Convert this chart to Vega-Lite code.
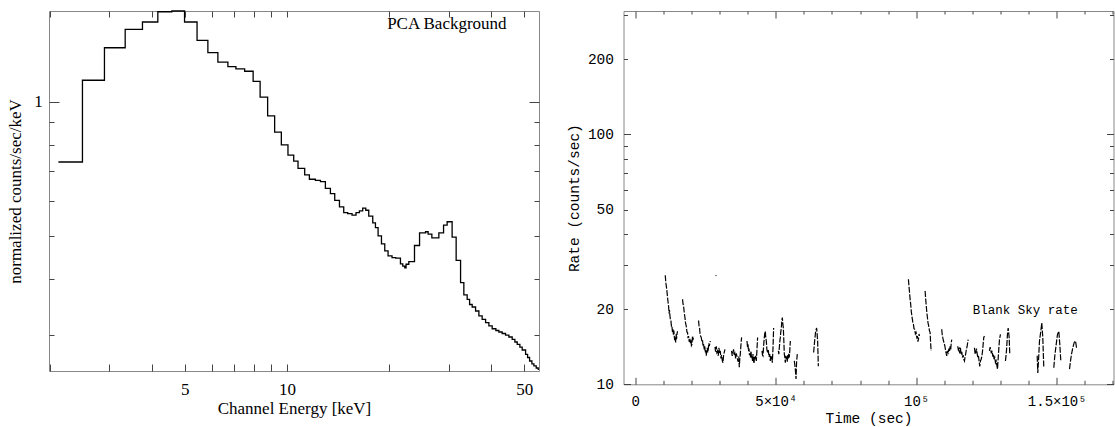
{
  "$schema": "https://vega.github.io/schema/vega-lite/v6.json",
  "padding": {"left": 6, "top": 7, "right": 1, "bottom": 0},
  "spacing": 22.5,
  "config": {
    "view": {"stroke": "#888", "strokeWidth": 1},
    "axis": {"domain": false, "grid": false, "tickColor": "#444", "tickWidth": 1, "labelColor": "#000", "titleColor": "#000", "titleFontWeight": "normal"}
  },
  "datasets": {
    "spectrum": [
      {"E": 2.121, "v": 0.7325}, {"E": 2.497, "v": 1.117}, {"E": 2.899, "v": 1.321}, {"E": 3.337, "v": 1.453},
      {"E": 3.752, "v": 1.509}, {"E": 4.164, "v": 1.591}, {"E": 4.579, "v": 1.597}, {"E": 4.992, "v": 1.509},
      {"E": 5.434, "v": 1.373}, {"E": 5.848, "v": 1.288}, {"E": 6.259, "v": 1.226}, {"E": 6.699, "v": 1.199},
      {"E": 7.073, "v": 1.184}, {"E": 7.505, "v": 1.170}, {"E": 7.950, "v": 1.111}, {"E": 8.336, "v": 1.024},
      {"E": 8.772, "v": 0.929}, {"E": 9.199, "v": 0.855}, {"E": 9.627, "v": 0.800}, {"E": 10.07, "v": 0.759},
      {"E": 10.47, "v": 0.736}, {"E": 10.78, "v": 0.709}, {"E": 11.28, "v": 0.685}, {"E": 11.645, "v": 0.670},
      {"E": 12.13, "v": 0.666}, {"E": 12.55, "v": 0.662}, {"E": 12.98, "v": 0.639}, {"E": 13.43, "v": 0.622},
      {"E": 13.83, "v": 0.601}, {"E": 14.28, "v": 0.581}, {"E": 14.70, "v": 0.564}, {"E": 15.10, "v": 0.561},
      {"E": 15.55, "v": 0.557}, {"E": 15.98, "v": 0.564}, {"E": 16.35, "v": 0.569}, {"E": 16.72, "v": 0.577},
      {"E": 17.07, "v": 0.571}, {"E": 17.42, "v": 0.554}, {"E": 17.90, "v": 0.535}, {"E": 18.23, "v": 0.522},
      {"E": 18.56, "v": 0.500}, {"E": 18.99, "v": 0.480}, {"E": 19.42, "v": 0.463}, {"E": 19.86, "v": 0.451},
      {"E": 20.40, "v": 0.447}, {"E": 20.92, "v": 0.446}, {"E": 21.60, "v": 0.433}, {"E": 21.94, "v": 0.428},
      {"E": 22.24, "v": 0.424}, {"E": 22.44, "v": 0.432}, {"E": 22.86, "v": 0.438}, {"E": 23.76, "v": 0.476},
      {"E": 24.59, "v": 0.508}, {"E": 25.61, "v": 0.511}, {"E": 26.06, "v": 0.505}, {"E": 26.73, "v": 0.495},
      {"E": 28.03, "v": 0.508}, {"E": 28.94, "v": 0.529}, {"E": 29.65, "v": 0.538}, {"E": 30.67, "v": 0.497},
      {"E": 31.52, "v": 0.441}, {"E": 32.48, "v": 0.393}, {"E": 33.21, "v": 0.369}, {"E": 33.97, "v": 0.3605},
      {"E": 34.53, "v": 0.351}, {"E": 35.14, "v": 0.3465}, {"E": 35.96, "v": 0.3394}, {"E": 36.78, "v": 0.3308},
      {"E": 37.60, "v": 0.3252}, {"E": 38.49, "v": 0.3195}, {"E": 39.36, "v": 0.3142}, {"E": 40.25, "v": 0.3097},
      {"E": 41.27, "v": 0.3069}, {"E": 42.12, "v": 0.3045}, {"E": 43.07, "v": 0.3022}, {"E": 44.07, "v": 0.2998},
      {"E": 45.08, "v": 0.2968}, {"E": 46.10, "v": 0.2933}, {"E": 46.95, "v": 0.2892}, {"E": 47.70, "v": 0.2858},
      {"E": 48.57, "v": 0.2818}, {"E": 49.34, "v": 0.2775}, {"E": 50.49, "v": 0.2714}, {"E": 51.18, "v": 0.2670},
      {"E": 51.88, "v": 0.2622}, {"E": 52.70, "v": 0.2582}, {"E": 53.42, "v": 0.2556}, {"E": 54.26, "v": 0.2529},
      {"E": 55.00, "v": 0.2512}, {"E": 55.27, "v": 0.2512}
    ],
    "specnote": [{"E": 29.6, "v": 1.456, "label": "PCA Background"}],
    "lcnote": [{"t": 138770, "r": 19.05, "label": "Blank Sky rate"}],
    "lc": [
      {"s": 1, "t": 10683, "r": 27.3}, {"s": 1, "t": 10900, "r": 25.5}, {"s": 1, "t": 11146, "r": 24.3}, {"s": 1, "t": 11300, "r": 23.5},
      {"s": 1, "t": 11502, "r": 22.2}, {"s": 1, "t": 11700, "r": 21.3}, {"s": 1, "t": 11858, "r": 20.6}, {"s": 1, "t": 12050, "r": 19.2},
      {"s": 1, "t": 12200, "r": 19.8}, {"s": 1, "t": 12357, "r": 18.8}, {"s": 1, "t": 12550, "r": 18.0}, {"s": 1, "t": 12713, "r": 17.9},
      {"s": 1, "t": 12900, "r": 17.0}, {"s": 1, "t": 13069, "r": 17.1}, {"s": 1, "t": 13250, "r": 16.2}, {"s": 1, "t": 13425, "r": 16.6},
      {"s": 1, "t": 13600, "r": 15.8}, {"s": 1, "t": 13750, "r": 16.4}, {"s": 1, "t": 13888, "r": 15.6}, {"s": 1, "t": 14050, "r": 15.0},
      {"s": 1, "t": 14244, "r": 15.4}, {"s": 1, "t": 14400, "r": 14.7}, {"s": 1, "t": 14493, "r": 14.9}, {"s": 1, "t": 14600, "r": 15.9},
      {"s": 1, "t": 14707, "r": 15.2}, {"s": 1, "t": 14900, "r": 16.0}, {"s": 1, "t": 15063, "r": 16.3},
      {"s": 2, "t": 16843, "r": 21.9}, {"s": 2, "t": 17000, "r": 21.0}, {"s": 2, "t": 17200, "r": 20.6}, {"s": 2, "t": 17450, "r": 19.3},
      {"s": 2, "t": 17698, "r": 18.5}, {"s": 2, "t": 17900, "r": 17.6}, {"s": 2, "t": 18161, "r": 17.1}, {"s": 2, "t": 18400, "r": 16.2},
      {"s": 2, "t": 18624, "r": 16.1}, {"s": 2, "t": 18800, "r": 15.3}, {"s": 2, "t": 18980, "r": 15.6}, {"s": 2, "t": 19200, "r": 14.8},
      {"s": 2, "t": 19479, "r": 15.2}, {"s": 2, "t": 19650, "r": 14.6}, {"s": 2, "t": 19835, "r": 15.1}, {"s": 2, "t": 20000, "r": 14.3},
      {"s": 2, "t": 20191, "r": 14.45}, {"s": 2, "t": 20400, "r": 15.6}, {"s": 2, "t": 20547, "r": 15.0}, {"s": 2, "t": 20761, "r": 15.6},
      {"s": 3, "t": 22541, "r": 18.0}, {"s": 3, "t": 22700, "r": 17.2}, {"s": 3, "t": 22897, "r": 16.8}, {"s": 3, "t": 23050, "r": 16.0},
      {"s": 3, "t": 23253, "r": 15.6}, {"s": 3, "t": 23500, "r": 15.4}, {"s": 3, "t": 23752, "r": 14.8}, {"s": 3, "t": 23950, "r": 15.0},
      {"s": 3, "t": 24108, "r": 14.3}, {"s": 3, "t": 24300, "r": 14.5}, {"s": 3, "t": 24571, "r": 13.8}, {"s": 3, "t": 24750, "r": 14.2},
      {"s": 3, "t": 24927, "r": 13.4}, {"s": 3, "t": 25100, "r": 13.7}, {"s": 3, "t": 25283, "r": 13.0}, {"s": 3, "t": 25450, "r": 13.6},
      {"s": 3, "t": 25639, "r": 14.0}, {"s": 3, "t": 25800, "r": 13.4}, {"s": 3, "t": 25995, "r": 13.8}, {"s": 3, "t": 26200, "r": 14.6},
      {"s": 3, "t": 26351, "r": 14.2}, {"s": 3, "t": 26708, "r": 14.9},
      {"s": 4, "t": 28650, "r": 27.3}, {"s": 4, "t": 28800, "r": 27.1},
      {"s": 5, "t": 28381, "r": 14.1}, {"s": 5, "t": 28600, "r": 13.5}, {"s": 5, "t": 28844, "r": 14.2}, {"s": 5, "t": 29050, "r": 13.4},
      {"s": 5, "t": 29307, "r": 13.6}, {"s": 5, "t": 29550, "r": 13.0}, {"s": 5, "t": 29806, "r": 14.0}, {"s": 5, "t": 30000, "r": 13.3},
      {"s": 5, "t": 30269, "r": 13.6}, {"s": 5, "t": 30500, "r": 12.7}, {"s": 5, "t": 30731, "r": 13.1}, {"s": 5, "t": 31000, "r": 12.4},
      {"s": 5, "t": 31230, "r": 12.2}, {"s": 5, "t": 31400, "r": 12.9}, {"s": 5, "t": 31586, "r": 13.3}, {"s": 5, "t": 31942, "r": 13.8},
      {"s": 6, "t": 34292, "r": 13.6}, {"s": 6, "t": 34500, "r": 13.0}, {"s": 6, "t": 34791, "r": 13.4}, {"s": 6, "t": 35000, "r": 13.8},
      {"s": 6, "t": 35254, "r": 13.1}, {"s": 6, "t": 35500, "r": 13.5}, {"s": 6, "t": 35716, "r": 12.7}, {"s": 6, "t": 35950, "r": 13.3},
      {"s": 6, "t": 36215, "r": 12.9}, {"s": 6, "t": 36450, "r": 12.5}, {"s": 6, "t": 36678, "r": 12.3}, {"s": 6, "t": 36850, "r": 12.9},
      {"s": 6, "t": 37034, "r": 11.7}, {"s": 6, "t": 37200, "r": 12.6}, {"s": 6, "t": 37390, "r": 13.2}, {"s": 6, "t": 37640, "r": 14.45},
      {"s": 6, "t": 37853, "r": 15.4},
      {"s": 7, "t": 39776, "r": 14.9}, {"s": 7, "t": 39950, "r": 14.1}, {"s": 7, "t": 40132, "r": 14.45}, {"s": 7, "t": 40300, "r": 13.6},
      {"s": 7, "t": 40488, "r": 13.9}, {"s": 7, "t": 40650, "r": 13.1}, {"s": 7, "t": 40844, "r": 13.3}, {"s": 7, "t": 41000, "r": 12.8},
      {"s": 7, "t": 41200, "r": 13.6}, {"s": 7, "t": 41400, "r": 12.7}, {"s": 7, "t": 41556, "r": 12.9}, {"s": 7, "t": 41750, "r": 12.4},
      {"s": 7, "t": 41912, "r": 13.2}, {"s": 7, "t": 42100, "r": 12.5}, {"s": 7, "t": 42269, "r": 12.1}, {"s": 7, "t": 42450, "r": 12.9},
      {"s": 7, "t": 42625, "r": 12.6}, {"s": 7, "t": 42850, "r": 13.0}, {"s": 7, "t": 43088, "r": 12.4}, {"s": 7, "t": 43300, "r": 13.6},
      {"s": 7, "t": 43551, "r": 15.4},
      {"s": 8, "t": 45118, "r": 13.6}, {"s": 8, "t": 45300, "r": 13.1}, {"s": 8, "t": 45474, "r": 13.0}, {"s": 8, "t": 45700, "r": 14.3},
      {"s": 8, "t": 45937, "r": 15.4}, {"s": 8, "t": 46100, "r": 16.0}, {"s": 8, "t": 46293, "r": 16.3}, {"s": 8, "t": 46450, "r": 15.4},
      {"s": 8, "t": 46649, "r": 14.9}, {"s": 8, "t": 46850, "r": 13.8}, {"s": 8, "t": 47112, "r": 13.4}, {"s": 8, "t": 47350, "r": 13.7},
      {"s": 8, "t": 47610, "r": 12.9}, {"s": 8, "t": 47850, "r": 13.2}, {"s": 8, "t": 48074, "r": 12.4}, {"s": 8, "t": 48250, "r": 13.0},
      {"s": 8, "t": 48430, "r": 12.6}, {"s": 8, "t": 48600, "r": 12.9}, {"s": 8, "t": 48786, "r": 12.2}, {"s": 8, "t": 49035, "r": 14.0},
      {"s": 8, "t": 49249, "r": 16.8},
      {"s": 9, "t": 50922, "r": 13.6}, {"s": 9, "t": 51100, "r": 13.2}, {"s": 9, "t": 51278, "r": 14.0}, {"s": 9, "t": 51450, "r": 14.8},
      {"s": 9, "t": 51635, "r": 15.4}, {"s": 9, "t": 51800, "r": 16.2}, {"s": 9, "t": 51991, "r": 16.8}, {"s": 9, "t": 52150, "r": 17.8},
      {"s": 9, "t": 52347, "r": 18.5}, {"s": 9, "t": 52500, "r": 17.6}, {"s": 9, "t": 52703, "r": 16.8}, {"s": 9, "t": 52900, "r": 14.8},
      {"s": 9, "t": 53059, "r": 13.2}, {"s": 9, "t": 53250, "r": 12.8}, {"s": 9, "t": 53415, "r": 12.2}, {"s": 9, "t": 53600, "r": 13.0},
      {"s": 9, "t": 53771, "r": 12.6}, {"s": 9, "t": 53950, "r": 12.9}, {"s": 9, "t": 54127, "r": 12.3}, {"s": 9, "t": 54300, "r": 13.1},
      {"s": 9, "t": 54483, "r": 12.7}, {"s": 9, "t": 54650, "r": 13.3}, {"s": 9, "t": 54839, "r": 12.8}, {"s": 9, "t": 55000, "r": 13.6},
      {"s": 9, "t": 55196, "r": 14.9},
      {"s": 10, "t": 56620, "r": 12.4}, {"s": 10, "t": 56976, "r": 11.5}, {"s": 10, "t": 57225, "r": 10.5}, {"s": 10, "t": 57439, "r": 12.4},
      {"s": 10, "t": 57688, "r": 13.2},
      {"s": 11, "t": 63492, "r": 13.4}, {"s": 11, "t": 63848, "r": 14.9}, {"s": 11, "t": 64204, "r": 16.3}, {"s": 11, "t": 64560, "r": 16.8},
      {"s": 11, "t": 64916, "r": 14.9}, {"s": 11, "t": 65166, "r": 11.8},
      {"s": 12, "t": 97215, "r": 26.3}, {"s": 12, "t": 97400, "r": 24.8}, {"s": 12, "t": 97571, "r": 23.6}, {"s": 12, "t": 97800, "r": 22.0},
      {"s": 12, "t": 98034, "r": 20.9}, {"s": 12, "t": 98250, "r": 19.5}, {"s": 12, "t": 98533, "r": 18.5}, {"s": 12, "t": 98750, "r": 17.8},
      {"s": 12, "t": 98996, "r": 17.4}, {"s": 12, "t": 99200, "r": 16.7}, {"s": 12, "t": 99459, "r": 16.6}, {"s": 12, "t": 99700, "r": 15.9},
      {"s": 12, "t": 99957, "r": 16.1}, {"s": 12, "t": 100200, "r": 15.4}, {"s": 12, "t": 100420, "r": 15.6}, {"s": 12, "t": 100600, "r": 14.8},
      {"s": 12, "t": 100776, "r": 15.1}, {"s": 12, "t": 101000, "r": 15.9}, {"s": 12, "t": 101132, "r": 15.6},
      {"s": 13, "t": 103162, "r": 23.6}, {"s": 13, "t": 103350, "r": 22.0}, {"s": 13, "t": 103518, "r": 20.9}, {"s": 13, "t": 103750, "r": 19.5},
      {"s": 13, "t": 103981, "r": 18.5}, {"s": 13, "t": 104200, "r": 17.6}, {"s": 13, "t": 104444, "r": 17.1}, {"s": 13, "t": 104700, "r": 16.4},
      {"s": 13, "t": 104942, "r": 16.1}, {"s": 13, "t": 105100, "r": 14.8}, {"s": 13, "t": 105298, "r": 13.6},
      {"s": 14, "t": 109072, "r": 16.6}, {"s": 14, "t": 109250, "r": 15.8}, {"s": 14, "t": 109429, "r": 15.4}, {"s": 14, "t": 109650, "r": 15.0},
      {"s": 14, "t": 109927, "r": 14.6}, {"s": 14, "t": 110150, "r": 14.3}, {"s": 14, "t": 110390, "r": 13.8}, {"s": 14, "t": 110600, "r": 13.4},
      {"s": 14, "t": 110853, "r": 13.0}, {"s": 14, "t": 111100, "r": 13.6}, {"s": 14, "t": 111351, "r": 13.2}, {"s": 14, "t": 111600, "r": 13.9},
      {"s": 14, "t": 111815, "r": 13.5}, {"s": 14, "t": 112050, "r": 14.2}, {"s": 14, "t": 112278, "r": 13.8}, {"s": 14, "t": 112450, "r": 14.6},
      {"s": 14, "t": 112634, "r": 15.1},
      {"s": 15, "t": 114771, "r": 14.2}, {"s": 15, "t": 115000, "r": 13.7}, {"s": 15, "t": 115269, "r": 13.9}, {"s": 15, "t": 115500, "r": 13.3},
      {"s": 15, "t": 115733, "r": 14.0}, {"s": 15, "t": 115950, "r": 13.2}, {"s": 15, "t": 116195, "r": 13.5}, {"s": 15, "t": 116450, "r": 12.8},
      {"s": 15, "t": 116694, "r": 13.1}, {"s": 15, "t": 116900, "r": 12.6}, {"s": 15, "t": 117157, "r": 12.4}, {"s": 15, "t": 117400, "r": 12.9},
      {"s": 15, "t": 117620, "r": 13.3}, {"s": 15, "t": 117850, "r": 13.8}, {"s": 15, "t": 118119, "r": 14.2}, {"s": 15, "t": 118475, "r": 15.1},
      {"s": 16, "t": 120718, "r": 14.0}, {"s": 16, "t": 120950, "r": 13.2}, {"s": 16, "t": 121181, "r": 13.4}, {"s": 16, "t": 121450, "r": 13.9},
      {"s": 16, "t": 121680, "r": 13.3}, {"s": 16, "t": 121900, "r": 12.8}, {"s": 16, "t": 122142, "r": 13.0}, {"s": 16, "t": 122400, "r": 12.3},
      {"s": 16, "t": 122605, "r": 11.8}, {"s": 16, "t": 122850, "r": 12.4}, {"s": 16, "t": 123104, "r": 12.6}, {"s": 16, "t": 123350, "r": 12.9},
      {"s": 16, "t": 123567, "r": 13.5}, {"s": 16, "t": 123800, "r": 14.4}, {"s": 16, "t": 124030, "r": 15.4}, {"s": 16, "t": 124279, "r": 15.6},
      {"s": 17, "t": 126059, "r": 13.6}, {"s": 17, "t": 126300, "r": 14.1}, {"s": 17, "t": 126522, "r": 13.7}, {"s": 17, "t": 126750, "r": 13.3},
      {"s": 17, "t": 127020, "r": 13.6}, {"s": 17, "t": 127250, "r": 12.9}, {"s": 17, "t": 127484, "r": 13.2}, {"s": 17, "t": 127700, "r": 12.6},
      {"s": 17, "t": 127947, "r": 12.8}, {"s": 17, "t": 128200, "r": 12.2}, {"s": 17, "t": 128445, "r": 12.4}, {"s": 17, "t": 128700, "r": 11.9},
      {"s": 17, "t": 128908, "r": 11.5}, {"s": 17, "t": 129100, "r": 12.4}, {"s": 17, "t": 129264, "r": 13.2}, {"s": 17, "t": 129450, "r": 14.2},
      {"s": 17, "t": 129620, "r": 15.1}, {"s": 17, "t": 129976, "r": 15.85},
      {"s": 18, "t": 131757, "r": 12.4}, {"s": 18, "t": 132113, "r": 13.6}, {"s": 18, "t": 132469, "r": 15.85}, {"s": 18, "t": 132718, "r": 16.8},
      {"s": 18, "t": 133074, "r": 15.4}, {"s": 18, "t": 133288, "r": 13.2},
      {"s": 19, "t": 143045, "r": 13.0}, {"s": 19, "t": 143259, "r": 11.1}, {"s": 19, "t": 143508, "r": 12.4}, {"s": 19, "t": 143864, "r": 14.9},
      {"s": 19, "t": 144327, "r": 16.3}, {"s": 19, "t": 144683, "r": 17.6}, {"s": 19, "t": 145039, "r": 15.4}, {"s": 19, "t": 145395, "r": 11.65},
      {"s": 20, "t": 148956, "r": 11.65}, {"s": 20, "t": 149312, "r": 13.0}, {"s": 20, "t": 149811, "r": 14.45}, {"s": 20, "t": 150274, "r": 15.85},
      {"s": 20, "t": 150737, "r": 16.3}, {"s": 20, "t": 151093, "r": 14.45}, {"s": 20, "t": 151449, "r": 12.4},
      {"s": 21, "t": 154547, "r": 11.5}, {"s": 21, "t": 154903, "r": 12.4}, {"s": 21, "t": 155260, "r": 13.2}, {"s": 21, "t": 155723, "r": 14.0},
      {"s": 21, "t": 156221, "r": 14.7}, {"s": 21, "t": 156684, "r": 14.9}, {"s": 21, "t": 157040, "r": 14.0}
    ]
  },
  "hconcat": [
    {
      "width": 490,
      "height": 360,
      "layer": [
        {
          "data": {"name": "spectrum"},
          "mark": {"type": "line", "interpolate": "step-after", "color": "#000", "strokeWidth": 1.3},
          "encoding": {
            "x": {"field": "E", "type": "quantitative",
              "scale": {"type": "log", "domain": [1.99, 55.3], "nice": false, "zero": false},
              "axis": {"orient": "bottom", "values": [5, 10, 50], "ticks": false,
                "labelExpr": "toString(datum.value)",
                "labelPadding": 10, "labelFont": "Liberation Serif", "labelFontSize": 17,
                "title": "Channel Energy [keV]", "titleFont": "Liberation Serif", "titleFontSize": 17, "titlePadding": 3}},
            "y": {"field": "v", "type": "quantitative",
              "scale": {"type": "log", "domain": [0.249, 1.597], "nice": false, "zero": false},
              "axis": {"orient": "left", "values": [1], "ticks": false,
                "labelExpr": "toString(datum.value)",
                "labelPadding": 6.7, "labelFont": "Liberation Serif", "labelFontSize": 17,
                "title": "normalized counts/sec/keV", "titleFont": "Liberation Serif", "titleFontSize": 17, "titlePadding": 9}}
          }
        },
        {
          "data": {"name": "specnote"},
          "mark": {"type": "point", "opacity": 0},
          "encoding": {
            "x": {"field": "E", "type": "quantitative", "scale": {"type": "log", "domain": [1.99, 55.3], "nice": false, "zero": false},
              "axis": {"orient": "bottom", "values": [2, 3, 4, 5, 6, 7, 8, 9, 10, 20, 30, 40, 50], "labels": false, "title": null, "tickSize": 7, "offset": -7}},
            "y": {"field": "v", "type": "quantitative", "scale": {"type": "log", "domain": [0.249, 1.597], "nice": false, "zero": false},
              "axis": {"orient": "left", "values": [1], "labels": false, "title": null, "tickSize": 10, "offset": -10}}
          }
        },
        {
          "data": {"name": "specnote"},
          "mark": {"type": "point", "opacity": 0},
          "encoding": {
            "x": {"field": "E", "type": "quantitative", "scale": {"type": "log", "domain": [1.99, 55.3], "nice": false, "zero": false},
              "axis": {"orient": "top", "values": [2, 3, 4, 5, 6, 7, 8, 9, 10, 20, 30, 40, 50], "labels": false, "title": null, "tickSize": 6, "offset": -6}},
            "y": {"field": "v", "type": "quantitative", "scale": {"type": "log", "domain": [0.249, 1.597], "nice": false, "zero": false},
              "axis": {"orient": "left", "values": [0.3, 0.4, 0.5, 0.6, 0.7, 0.8, 0.9], "labels": false, "title": null, "tickSize": 5, "offset": -5}}
          }
        },
        {
          "data": {"name": "specnote"},
          "mark": {"type": "point", "opacity": 0},
          "encoding": {
            "x": {"field": "E", "type": "quantitative", "scale": {"type": "log", "domain": [1.99, 55.3], "nice": false, "zero": false}, "axis": null},
            "y": {"field": "v", "type": "quantitative", "scale": {"type": "log", "domain": [0.249, 1.597], "nice": false, "zero": false},
              "axis": {"orient": "right", "values": [1], "labels": false, "title": null, "tickSize": 10, "offset": -10}}
          }
        },
        {
          "data": {"name": "specnote"},
          "mark": {"type": "point", "opacity": 0},
          "encoding": {
            "x": {"field": "E", "type": "quantitative", "scale": {"type": "log", "domain": [1.99, 55.3], "nice": false, "zero": false}, "axis": null},
            "y": {"field": "v", "type": "quantitative", "scale": {"type": "log", "domain": [0.249, 1.597], "nice": false, "zero": false},
              "axis": {"orient": "right", "values": [0.3, 0.4, 0.5, 0.6, 0.7, 0.8, 0.9], "labels": false, "title": null, "tickSize": 5, "offset": -5}}
          }
        },
        {
          "data": {"name": "specnote"},
          "mark": {"type": "text", "font": "Liberation Serif", "fontSize": 17, "align": "center", "baseline": "alphabetic", "color": "#000"},
          "encoding": {
            "x": {"field": "E", "type": "quantitative", "scale": {"type": "log", "domain": [1.99, 55.3], "nice": false, "zero": false}, "axis": null},
            "y": {"field": "v", "type": "quantitative", "scale": {"type": "log", "domain": [0.249, 1.597], "nice": false, "zero": false}, "axis": null},
            "text": {"field": "label"}
          }
        }
      ],
      "resolve": {"axis": {"x": "independent", "y": "independent"}}
    },
    {
      "width": 490,
      "height": 373.3,
      "layer": [
        {
          "data": {"name": "lc"},
          "mark": {"type": "line", "color": "#000", "strokeWidth": 1.2, "strokeDash": [6, 1.5]},
          "encoding": {
            "x": {"field": "t", "type": "quantitative",
              "scale": {"domain": [-4170, 170200], "nice": false, "zero": false},
              "axis": {"orient": "bottom", "values": [0, 50000, 100000, 150000], "ticks": false,
                "labelExpr": "datum.value == 0 ? '0' : datum.value == 50000 ? '5×10⁴' : datum.value == 100000 ? '10⁵' : '1.5×10⁵'",
                "labelPadding": 10, "labelFont": "Liberation Mono", "labelFontSize": 14,
                "title": "Time (sec)", "titleFont": "Liberation Mono", "titleFontSize": 14.5, "titlePadding": 3}},
            "y": {"field": "r", "type": "quantitative",
              "scale": {"type": "log", "domain": [10, 311.3], "nice": false, "zero": false},
              "axis": {"orient": "left", "values": [10, 20, 50, 100, 200], "ticks": false, "format": "d",
                "labelPadding": 10, "labelAlign": "right", "labelBaseline": "middle",
                "labelFont": "Liberation Mono", "labelFontSize": 14.5,
                "title": "Rate (counts/sec)", "titleFont": "Liberation Mono", "titleFontSize": 14.5, "titlePadding": 6}},
            "detail": {"field": "s", "type": "nominal"}
          }
        },
        {
          "data": {"name": "lcnote"},
          "mark": {"type": "point", "opacity": 0},
          "encoding": {
            "x": {"field": "t", "type": "quantitative", "scale": {"domain": [-4170, 170200], "nice": false, "zero": false},
              "axis": {"orient": "bottom", "values": [0, 50000, 100000, 150000], "labels": false, "title": null, "tickSize": 7, "offset": -7}},
            "y": {"field": "r", "type": "quantitative", "scale": {"type": "log", "domain": [10, 311.3], "nice": false, "zero": false},
              "axis": {"orient": "left", "values": [10, 100], "labels": false, "title": null, "tickSize": 7, "offset": -7}}
          }
        },
        {
          "data": {"name": "lcnote"},
          "mark": {"type": "point", "opacity": 0},
          "encoding": {
            "x": {"field": "t", "type": "quantitative", "scale": {"domain": [-4170, 170200], "nice": false, "zero": false},
              "axis": {"orient": "bottom", "values": [10000, 20000, 30000, 40000, 60000, 70000, 80000, 90000, 110000, 120000, 130000, 140000, 160000, 170000], "labels": false, "title": null, "tickSize": 4, "offset": -4}},
            "y": {"field": "r", "type": "quantitative", "scale": {"type": "log", "domain": [10, 311.3], "nice": false, "zero": false},
              "axis": {"orient": "left", "values": [20, 30, 40, 50, 60, 70, 80, 90, 200, 300], "labels": false, "title": null, "tickSize": 4, "offset": -4}}
          }
        },
        {
          "data": {"name": "lcnote"},
          "mark": {"type": "point", "opacity": 0},
          "encoding": {
            "x": {"field": "t", "type": "quantitative", "scale": {"domain": [-4170, 170200], "nice": false, "zero": false},
              "axis": {"orient": "top", "values": [0, 50000, 100000, 150000], "labels": false, "title": null, "tickSize": 7, "offset": -7}},
            "y": {"field": "r", "type": "quantitative", "scale": {"type": "log", "domain": [10, 311.3], "nice": false, "zero": false},
              "axis": {"orient": "right", "values": [10, 100], "labels": false, "title": null, "tickSize": 7, "offset": -7}}
          }
        },
        {
          "data": {"name": "lcnote"},
          "mark": {"type": "point", "opacity": 0},
          "encoding": {
            "x": {"field": "t", "type": "quantitative", "scale": {"domain": [-4170, 170200], "nice": false, "zero": false},
              "axis": {"orient": "top", "values": [10000, 20000, 30000, 40000, 60000, 70000, 80000, 90000, 110000, 120000, 130000, 140000, 160000, 170000], "labels": false, "title": null, "tickSize": 3, "offset": -3}},
            "y": {"field": "r", "type": "quantitative", "scale": {"type": "log", "domain": [10, 311.3], "nice": false, "zero": false},
              "axis": {"orient": "right", "values": [20, 30, 40, 50, 60, 70, 80, 90, 200, 300], "labels": false, "title": null, "tickSize": 4, "offset": -4}}
          }
        },
        {
          "data": {"name": "lcnote"},
          "mark": {"type": "text", "font": "Liberation Mono", "fontSize": 12.5, "align": "center", "baseline": "alphabetic", "color": "#000"},
          "encoding": {
            "x": {"field": "t", "type": "quantitative", "scale": {"domain": [-4170, 170200], "nice": false, "zero": false}, "axis": null},
            "y": {"field": "r", "type": "quantitative", "scale": {"type": "log", "domain": [10, 311.3], "nice": false, "zero": false}, "axis": null},
            "text": {"field": "label"}
          }
        }
      ],
      "resolve": {"axis": {"x": "independent", "y": "independent"}}
    }
  ]
}
